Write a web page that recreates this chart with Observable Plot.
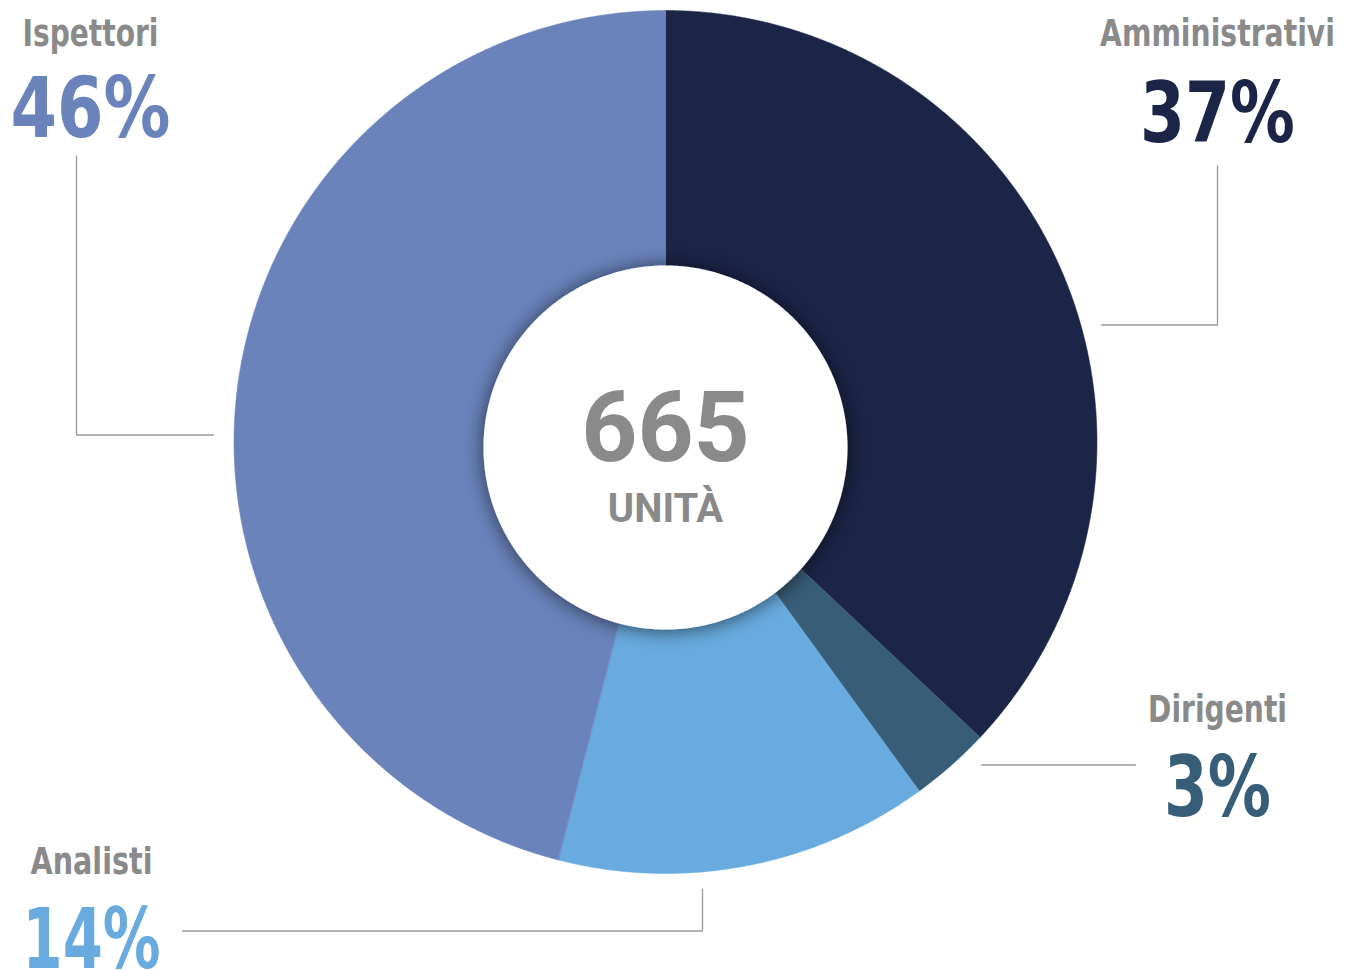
<!DOCTYPE html>
<html>
<head>
<meta charset="utf-8">
<script src="https://cdn.jsdelivr.net/npm/d3@7"></script>
<script src="https://cdn.jsdelivr.net/npm/@observablehq/plot@0.6"></script>
<style>
  html, body { margin: 0; padding: 0; background: #ffffff; }
  #chart svg { display: block; }
</style>
</head>
<body>
<div id="chart"></div>
<script>
// ---- data ----
const categories = ["Amministrativi", "Dirigenti", "Analisti", "Ispettori"];
const percentages = [37, 3, 14, 46];
const colors = ["#1c2447", "#385d78", "#69abde", "#6a83bb"];
const totalValue = 665;
const totalLabel = "UNITÀ";

// ---- layout (pixel offsets from donut centre, widths of condensed labels) ----
const W = 1354, H = 970;
const CX = 665, CY = 441.5;
const R_OUT = 431.5, R_IN = 182, DISK_DY = 5.5;
const labelPos = {
  "Amministrativi": {x: 552, nameY: -396, pctY: -300, nameW: 235, pctW: 155, leader: [[552, -276], [552, -117], [436, -117]]},
  "Dirigenti":      {x: 552, nameY: 280,  pctY: 374,  nameW: 139, pctW: 107, leader: [[316, 323], [470, 323]]},
  "Analisti":       {x: -574, nameY: 432, pctY: 526,  nameW: 122, pctW: 138, leader: [[37, 447], [37, 489], [-483, 489]]},
  "Ispettori":      {x: -575, nameY: -396, pctY: -305, nameW: 136, pctW: 160, leader: [[-589, -286], [-589, -7], [-452, -7]]}
};

// ---- slice geometry from the values ----
const total = d3.sum(percentages);
const slices = [];
let acc = 0;
categories.forEach((c, i) => {
  const a0 = acc / total * 2 * Math.PI;
  acc += percentages[i];
  const a1 = acc / total * 2 * Math.PI;
  const n = Math.max(2, Math.ceil((a1 - a0) / (Math.PI / 720)));
  for (let k = 0; k <= n; k++) {
    const a = a0 + (a1 - a0) * k / n;
    slices.push({cat: c, x: R_OUT * Math.sin(a), y: -R_OUT * Math.cos(a)});
  }
  for (let k = n; k >= 0; k--) {
    const a = a0 + (a1 - a0) * k / n;
    slices.push({cat: c, x: R_IN * 0.5 * Math.sin(a), y: -R_IN * 0.5 * Math.cos(a)});
  }
});
const disk = d3.range(0, 721).map(k => {
  const a = k / 720 * 2 * Math.PI;
  return {x: R_IN * Math.sin(a), y: DISK_DY - R_IN * Math.cos(a)};
});

const leaders = [];
categories.forEach(c => labelPos[c].leader.forEach(([x, y]) => leaders.push({cat: c, x, y})));
const names = categories.map(c => ({cat: c, x: labelPos[c].x, y: labelPos[c].nameY, text: c}));
const pcts = categories.map((c, i) => ({cat: c, x: labelPos[c].x, y: labelPos[c].pctY, text: percentages[i] + "%"}));

const labelFont = "'DejaVu Sans Condensed', 'Roboto', sans-serif";
const centerFont = "Roboto, 'Liberation Sans', sans-serif";

const chart = Plot.plot({
  width: W,
  height: H,
  margin: 0,
  x: {domain: [-CX, W - CX], range: [0, W], axis: null},
  y: {domain: [-CY, H - CY], range: [0, H], axis: null},
  color: {domain: categories, range: colors},
  marks: [
    Plot.line(slices, {x: "x", y: "y", z: "cat", fill: "cat", stroke: "cat", strokeWidth: 0.5, curve: "linear-closed"}),
    Plot.line(disk, {x: "x", y: "y", fill: "#ffffff", stroke: "none", curve: "linear-closed", ariaDescription: "inner-disk"}),
    Plot.line(leaders, {x: "x", y: "y", z: "cat", stroke: "#9b9b9b", strokeWidth: 1.3}),
    Plot.text(names, {x: "x", y: "y", text: "text", fill: "#8a8a8a", fontSize: 37, fontWeight: "bold",
      fontFamily: labelFont, textAnchor: "middle", lineAnchor: "bottom", ariaDescription: "names"}),
    Plot.text(pcts, {x: "x", y: "y", text: "text", fill: "cat", fontSize: 84, fontWeight: "bold",
      fontFamily: labelFont, textAnchor: "middle", lineAnchor: "bottom", ariaDescription: "pcts"}),
    Plot.text([{x: 0, y: 19, text: String(totalValue)}], {x: "x", y: "y", text: "text", fill: "#8a8a8a",
      fontSize: 98, fontWeight: "bold", fontFamily: centerFont, textAnchor: "middle", lineAnchor: "bottom"}),
    Plot.text([{x: 0, y: 80, text: totalLabel}], {x: "x", y: "y", text: "text", fill: "#8a8a8a",
      fontSize: 40, fontWeight: "bold", fontFamily: centerFont, textAnchor: "middle", lineAnchor: "bottom"})
  ]
});

// soft shadow around the inner white disk
const ns = "http://www.w3.org/2000/svg";
const defs = document.createElementNS(ns, "defs");
defs.innerHTML = '<filter id="diskShadow" x="-30%" y="-30%" width="160%" height="160%">' +
  '<feDropShadow dx="0" dy="1" stdDeviation="10" flood-color="#000" flood-opacity="0.6"/></filter>';
chart.insertBefore(defs, chart.firstChild);
const diskG = chart.querySelector('[aria-description="inner-disk"]');
if (diskG) diskG.setAttribute("filter", "url(#diskShadow)");

document.getElementById("chart").appendChild(chart);

// condense the label texts horizontally to the reference widths
function condense(desc, key) {
  const g = chart.querySelector(`[aria-description="${desc}"]`);
  if (!g) return;
  g.querySelectorAll("text").forEach((t, i) => {
    const c = categories[i];
    if (!c) return;
    const natural = t.getComputedTextLength();
    if (!natural) return;
    const sx = labelPos[c][key] / natural;
    const tr = t.getAttribute("transform") || "";
    t.setAttribute("transform", (tr + ` scale(${sx},1)`).trim());
  });
}
condense("names", "nameW");
condense("pcts", "pctW");
</script>
</body>
</html>
